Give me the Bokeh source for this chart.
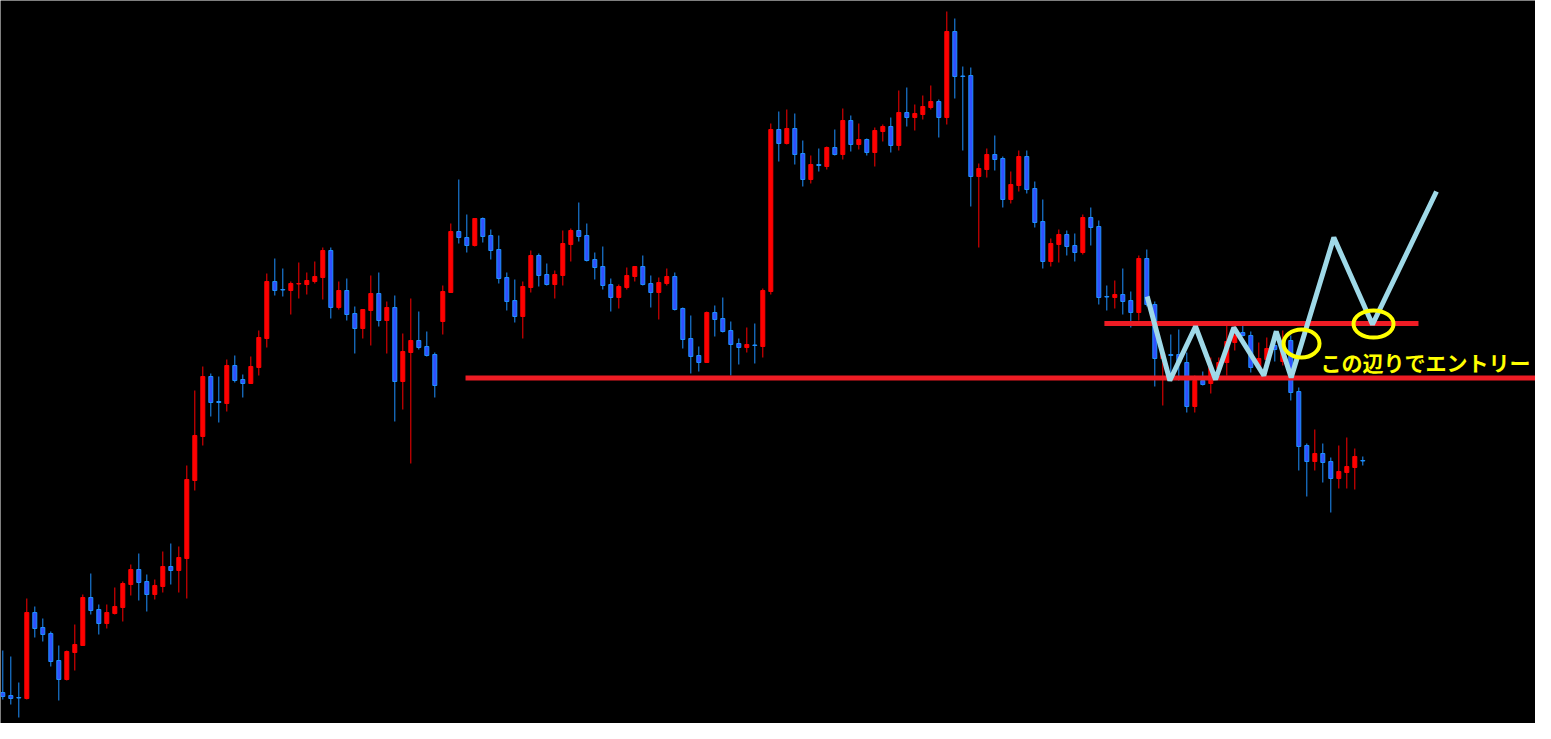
from bokeh.plotting import figure
from bokeh.models import Range1d, ColumnDataSource
from bokeh.core.properties import value
from bokeh.embed import file_html
from bokeh.resources import INLINE

# ---- candle data (price units, bar index = position) ----
opens = [47, 44, 42, 41, 127, 112, 106, 79, 60, 87, 94, 142, 130, 116, 126, 132, 155, 170, 158, 145,
         153, 173, 169, 181, 259, 303, 363, 338, 336, 374, 360, 356, 372, 401, 458, 450, 449, 455.5, 455, 458,
         462, 489, 432, 449, 426, 411, 429, 446, 419, 432, 358, 387, 399, 393, 385, 418, 447, 508, 502, 494,
         521, 504, 490, 462, 439, 423, 452, 484, 465, 455, 464, 495, 509, 504, 480, 473, 455, 442, 452, 463,
         473, 456, 447, 456, 463, 431, 401, 384, 377, 427, 421, 409, 396, 392, 394.5, 393, 448, 610, 596, 611,
         586, 560, 575, 573, 592, 585, 619, 595, 600, 587, 608, 613, 594, 627, 622, 625, 632, 638, 622, 708,
         663.5, 664, 563, 570, 585, 581, 540, 554, 583, 551, 518, 478, 495, 505, 494, 487, 522, 513, 443, 442,
         445, 439, 427, 481, 435, 381, 385, 385, 377, 333, 359, 356, 371, 377, 397, 407, 404, 372, 380, 394,
         378, 399, 348, 294, 278, 286, 278, 261, 267, 272, 279]
highs = [89, 83, 57, 141, 133, 121, 108, 94, 89, 115, 145, 166, 135, 135, 152, 158, 175, 186, 165, 160,
         188, 196, 193, 274, 349, 373, 366, 363, 380, 384, 365, 383, 409, 466, 481, 471, 458, 477, 467, 478,
         492, 492, 458, 461, 433, 430, 464, 467, 438, 444, 406, 441, 428, 408, 387, 454, 516, 560, 525, 521,
         522, 510, 504, 467, 460, 458, 489, 486, 476, 469, 509, 511, 537, 516, 487, 493, 461, 455, 472, 473,
         484, 464, 462, 471, 467, 432, 424, 393, 428, 434, 442, 418, 401, 412, 416, 451, 616, 628, 630, 626,
         599, 584, 591, 593, 610, 631, 624, 616, 601, 612, 615, 622, 649, 652, 635, 644, 654, 640, 728, 721,
         673, 672, 576, 591, 604, 583, 568, 589, 589, 558, 540, 501, 510, 509, 506, 525, 532, 519, 454, 459,
         471, 448, 484, 490, 438, 389, 405, 410, 387, 364, 368, 382, 382, 414, 414, 414, 408, 397, 402, 409,
         409, 404, 352, 296, 310, 296, 282, 294, 302, 291, 283]
lows = [40, 35, 22, 40, 102, 98, 73, 39, 59, 69, 94, 125, 105, 111, 125, 118, 144, 139, 128, 140,
        147, 155, 147, 141, 249, 294, 323, 317, 328, 357, 342, 356, 364, 392, 444, 443, 425, 441, 445, 456,
        440, 421, 430, 419, 386, 401, 394, 413, 386, 318, 330, 276, 390, 383, 342, 405, 447, 496, 487, 493,
        497, 480, 456, 429, 417, 401, 447, 453, 454, 441, 454, 478, 498, 478, 460, 450, 428, 431, 450, 458,
        454, 432, 420, 454, 429, 391, 366, 368, 377, 403, 407, 364, 375, 387, 376, 382, 445, 578, 595, 575,
        553, 556, 568, 570, 584, 580, 588, 590, 584, 573, 598, 587, 589, 613, 609, 620, 630, 602, 615, 641,
        589, 533, 492, 562, 569, 532, 536, 548, 546, 512, 471, 473, 477, 484, 478, 485, 494, 435, 429, 431,
        425, 412, 419, 433, 353, 334, 359, 359, 327, 327, 354, 346, 368, 364, 389, 403, 367, 369, 379, 378,
        374, 339, 269, 243, 269, 257, 227, 251, 251, 250, 274]
closes = [43, 41, 41.5, 127, 111, 105, 78, 60, 88, 95, 142, 129, 116, 127, 133, 156, 170, 157, 145, 154,
          173, 169, 182, 260, 304, 363, 337, 337, 374, 359, 356, 373, 402, 458, 449, 449.5, 456, 456, 459, 463,
          489, 432, 449, 425, 411, 430, 446, 419, 432, 358, 388, 399, 392, 384, 354, 448, 508, 502, 494, 521,
          503, 489, 461, 438, 423, 453, 484, 464, 455, 465, 496, 509, 503, 479, 472, 454, 442, 453, 464, 473,
          455, 447, 457, 463, 430, 400, 383, 377, 427, 420, 408, 395, 392, 395, 394, 449, 610, 596, 611, 585,
          560, 575, 574, 592, 585, 619, 595, 600, 587, 609, 613, 594, 627, 622, 626, 633, 638, 622, 708, 663,
          663, 563, 571, 585, 580, 540, 555, 583, 550, 517, 478, 496, 505, 493, 487, 522, 512, 442, 442.5, 445,
          438, 427, 481, 435, 381, 386, 384, 377, 333, 359, 355, 372, 377, 398, 404, 404, 372, 381, 391, 390,
          399, 347, 293, 278, 286, 277, 261, 268, 273, 283, 278.5]

# ---- drawn annotations (price levels / bar positions) ----
support_level = 361.5
support_from_bar = 57.84
resistance_level = 416
resistance_from_bar, resistance_to_bar = 137.7, 176.96
zigzag_bar = [143.05, 145.88, 149.09, 151.59, 153.88, 157.63, 159.18, 161.05, 166.38, 171.21, 179.21]
zigzag_price = [443, 359, 413, 360, 412, 364, 408, 362, 502, 415, 548]
mark_bar = [162.34, 171.34]
mark_price = [396, 415.5]
mark_w = [36, 40]
mark_h = [28, 27]
note_text = "この辺りでエントリー"
note_bar, note_price = 164.71, 377.5

n = len(opens)
bars = list(range(n))
up = [c > o for o, c in zip(opens, closes)]
body_top = [max(o, c) for o, c in zip(opens, closes)]
body_bot = [min(o, c) for o, c in zip(opens, closes)]

RED = "#ff0000"
BLUE_FILL = "#3050ff"
BLUE_EDGE = "#1e90ff"

src = ColumnDataSource(dict(
    x=bars, high=highs, low=lows, top=body_top, bottom=body_bot,
    fill=[RED if u else BLUE_FILL for u in up],
    edge=[RED if u else BLUE_EDGE for u in up],
))

p = figure(width=1535, height=723, output_backend="svg", toolbar_location=None,
           x_axis_type=None, y_axis_type=None, min_border=0,
           x_range=Range1d(-0.2875, 191.5875), y_range=Range1d(16, 739))
p.background_fill_color = "black"
p.border_fill_color = "black"
p.outline_line_color = None
p.grid.visible = False

p.segment(x0="x", y0="low", x1="x", y1="high", line_color="edge", line_width=1, source=src)
p.vbar(x="x", top="top", bottom="bottom", width=0.5, fill_color="fill", line_color="edge",
       line_width=1, source=src)

LINE_RED = "#ee1c24"
p.line(x=[support_from_bar, 200], y=[support_level, support_level], line_color=LINE_RED, line_width=5)
p.line(x=[resistance_from_bar, resistance_to_bar], y=[resistance_level, resistance_level],
       line_color=LINE_RED, line_width=5)

p.line(x=zigzag_bar, y=zigzag_price, line_color="#9fd9e8", line_width=5)

p.ellipse(x=mark_bar, y=mark_price, width=mark_w, height=mark_h, width_units="screen",
          height_units="screen", fill_color=None, line_color="#ffff00", line_width=4)

p.text(x=[note_bar], y=[note_price], text=[note_text], text_font=value("Noto Sans CJK JP"),
       text_font_style="bold", text_font_size="21px", text_color="#ffff00",
       text_baseline="middle", text_align="left")

open("out.html", "w").write(file_html(p, INLINE))
